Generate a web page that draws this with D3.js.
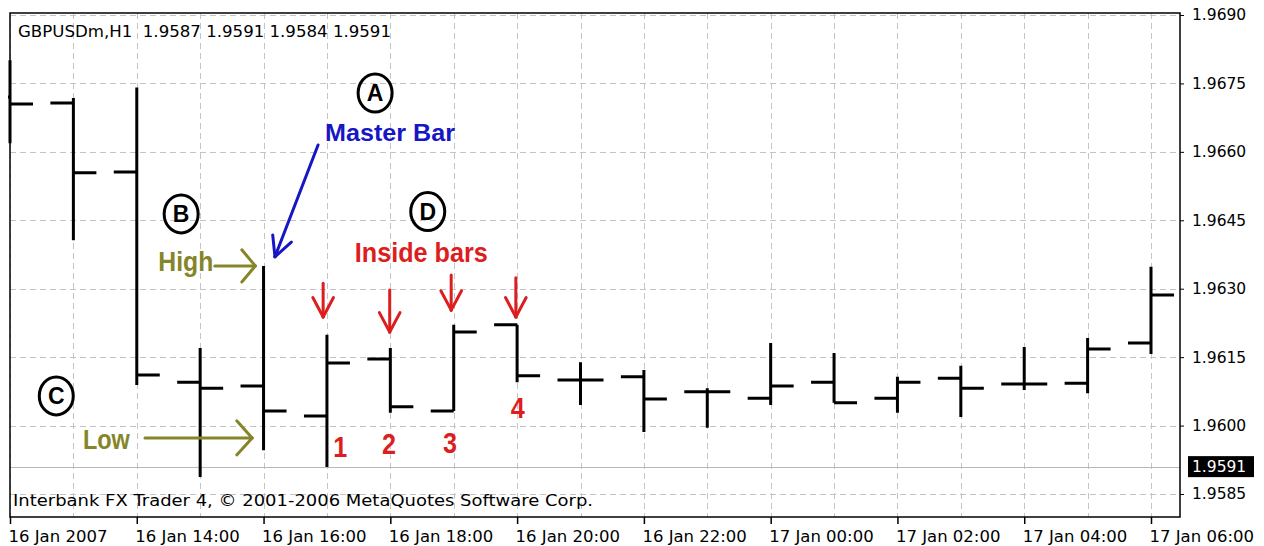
<!DOCTYPE html>
<html>
<head>
<meta charset="utf-8">
<script src="https://cdn.jsdelivr.net/npm/d3@7"></script>
<style>
  body { margin: 0; background: #fff; }
  svg { display: block; }
</style>
</head>
<body>
<script>
'use strict';

// hourly GBPUSD bars
const barTimes = [
  "2007-01-16 12:00", "2007-01-16 13:00", "2007-01-16 14:00", "2007-01-16 15:00",
  "2007-01-16 16:00", "2007-01-16 17:00", "2007-01-16 18:00", "2007-01-16 19:00",
  "2007-01-16 20:00", "2007-01-16 21:00", "2007-01-16 22:00", "2007-01-16 23:00",
  "2007-01-17 00:00", "2007-01-17 01:00", "2007-01-17 02:00", "2007-01-17 03:00",
  "2007-01-17 04:00", "2007-01-17 05:00", "2007-01-17 06:00"
]
const barOpen  = [1.96720, 1.96707, 1.96556, 1.96095, 1.96087, 1.96021, 1.96146, 1.96032, 1.96221, 1.96100,
                  1.96107, 1.96074, 1.96060, 1.96095, 1.96060, 1.96104, 1.96091, 1.96093, 1.96181]
const barHigh  = [1.96801, 1.96718, 1.96741, 1.96170, 1.96350, 1.96199, 1.96170, 1.96221, 1.96221, 1.96139,
                  1.96122, 1.96082, 1.96181, 1.96159, 1.96107, 1.96131, 1.96172, 1.96192, 1.96348]
const barLow   = [1.96619, 1.96406, 1.96089, 1.95887, 1.95946, 1.95909, 1.96028, 1.96032, 1.96095, 1.96045,
                  1.95986, 1.95995, 1.96045, 1.96050, 1.96028, 1.96019, 1.96078, 1.96071, 1.96157]
const barClose = [1.96705, 1.96554, 1.96111, 1.96082, 1.96032, 1.96137, 1.96041, 1.96205, 1.96109, 1.96100,
                  1.96058, 1.96074, 1.96087, 1.96050, 1.96095, 1.96082, 1.96091, 1.96168, 1.96286]

const priceTicks = [1.9585, 1.9600, 1.9615, 1.9630, 1.9645, 1.9660, 1.9675, 1.9690]
const timeTickLabels = ["16 Jan 2007", "16 Jan 14:00", "16 Jan 16:00", "16 Jan 18:00", "16 Jan 20:00",
                        "16 Jan 22:00", "17 Jan 00:00", "17 Jan 02:00", "17 Jan 04:00", "17 Jan 06:00"]
const lastPrice = 1.9591
const headerText = "GBPUSDm,H1  1.9587 1.9591 1.9584 1.9591"
const footerText = "Interbank FX Trader 4, \u00A9 2001-2006 MetaQuotes Software Corp."

// annotations, placed in (hours from first bar, price)
const circleNotes = [
  { label: "A", u: 5.76, p: 1.96729 },
  { label: "B", u: 2.70, p: 1.96464 },
  { label: "C", u: 0.73, p: 1.96065 },
  { label: "D", u: 6.59, p: 1.96469 }
]
const insideArrows = [
  { u: 4.94, top: 1.96312, tip: 1.96238 },
  { u: 5.99, top: 1.96297, tip: 1.96205 },
  { u: 6.96, top: 1.96330, tip: 1.96253 },
  { u: 7.98, top: 1.96324, tip: 1.96238 }
]
const insideNumbers = [
  { label: "1", u: 5.21, p: 1.95931 },
  { label: "2", u: 5.98, p: 1.95938 },
  { label: "3", u: 6.94, p: 1.95940 },
  { label: "4", u: 8.01, p: 1.96017 }
]

const m = { left: 10, top: 13, right: 1180, bottom: 517 }
const tick = 23

const parse = d3.timeParse("%Y-%m-%d %H:%M")
const times = barTimes.map(parse)
const bars = times.map((t, i) => ({ t: t, o: barOpen[i], h: barHigh[i], l: barLow[i], c: barClose[i] }))

const x = d3.scaleTime().domain([times[0], times[times.length - 1]]).range([10, 1151])
const y = d3.scaleLinear().domain([1.9585, 1.9690]).range([494, 15])
const ux = function(u) { return x(new Date(+times[0] + u * 3600e3)) }

const svg = d3.select('body').append('svg')
  .attr('width', 1264)
  .attr('height', 546)
  .style('font-family', '"DejaVu Sans", Verdana, sans-serif')

// grid
const grid = svg.append('g')
  .attr('stroke', '#c4c4c4')
  .attr('stroke-width', 1)
  .attr('stroke-dasharray', '6,4')
grid.selectAll('line.h')
  .data(priceTicks)
  .enter().append('line')
    .attr('x1', m.left).attr('x2', m.right)
    .attr('y1', d => Math.round(y(d)) + 0.5).attr('y2', d => Math.round(y(d)) + 0.5)
grid.selectAll('line.v')
  .data(d3.timeHour.range(times[0], d3.timeHour.offset(times[times.length - 1], 1)))
  .enter().append('line')
    .attr('x1', d => Math.round(x(d)) + 0.5).attr('x2', d => Math.round(x(d)) + 0.5)
    .attr('y1', m.top).attr('y2', m.bottom)

// last price line
svg.append('line')
  .attr('x1', m.left).attr('x2', m.right)
  .attr('y1', Math.round(y(lastPrice)) + 0.5).attr('y2', Math.round(y(lastPrice)) + 0.5)
  .attr('stroke', '#b8b8b8')
  .attr('stroke-width', 1)

// bars
svg.append('clipPath').attr('id', 'plot')
  .append('rect')
    .attr('x', m.left - 2).attr('y', m.top)
    .attr('width', m.right - m.left + 2).attr('height', m.bottom - m.top)

svg.append('g')
  .attr('clip-path', 'url(#plot)')
  .selectAll('path')
  .data(bars)
  .enter().append('path')
    .attr('d', d => {
      const cx = x(d.t)
      return 'M' + cx + ',' + y(d.h) + 'V' + y(d.l) +
        'M' + (cx - tick) + ',' + y(d.o) + 'H' + cx +
        'M' + cx + ',' + y(d.c) + 'H' + (cx + tick)
    })
    .attr('fill', 'none')
    .attr('stroke', '#000')
    .attr('stroke-width', 3)

// frame
svg.append('rect')
  .attr('x', m.left).attr('y', m.top)
  .attr('width', m.right - m.left).attr('height', m.bottom - m.top)
  .attr('fill', 'none')
  .attr('stroke', '#000')
  .attr('stroke-width', 1.5)

// price axis
const yAxis = d3.axisRight(y)
  .tickValues(priceTicks)
  .tickSize(4)
  .tickPadding(8)
  .tickFormat(d3.format('.4f'))
const gy = svg.append('g')
  .attr('transform', 'translate(' + m.right + ',0)')
  .call(yAxis)
gy.select('.domain').remove()
gy.selectAll('text').style('font-size', '15.5px').style('font-family', '"DejaVu Sans", sans-serif').attr('fill', '#000')
gy.selectAll('line').attr('stroke', '#000')

// last price box
const lp = svg.append('g')
lp.append('rect')
  .attr('x', 1188).attr('y', y(lastPrice) - 10.5)
  .attr('width', 66).attr('height', 21)
  .attr('fill', '#000')
lp.append('text')
  .attr('x', 1192).attr('y', y(lastPrice))
  .attr('dy', '0.36em')
  .attr('fill', '#fff')
  .style('font-size', '15.5px')
  .text(d3.format('.4f')(lastPrice))

// time axis
const timeTicks = d3.timeHour.every(2).range(times[0], d3.timeHour.offset(times[times.length - 1], 1))
const xAxis = d3.axisBottom(x)
  .tickValues(timeTicks)
  .tickSize(7)
  .tickPadding(6)
  .tickFormat((d, i) => timeTickLabels[i])
const gx = svg.append('g')
  .attr('transform', 'translate(0,' + m.bottom + ')')
  .call(xAxis)
gx.select('.domain').remove()
gx.selectAll('line').attr('stroke', '#000').attr('stroke-width', 1.5)
gx.selectAll('text')
  .attr('text-anchor', 'start')
  .attr('x', -2)
  .attr('fill', '#000')
  .style('font-size', '16.5px')
  .style('font-family', '"DejaVu Sans", sans-serif')

// header and footer
svg.append('text')
  .attr('x', 18).attr('y', 37)
  .style('font-size', '16.5px')
  .style('white-space', 'pre')
  .attr('textLength', 373)
  .attr('lengthAdjust', 'spacingAndGlyphs')
  .text(headerText)

svg.append('text')
  .attr('x', 13).attr('y', 506)
  .style('font-size', '16.5px')
  .attr('textLength', 580)
  .attr('lengthAdjust', 'spacingAndGlyphs')
  .text(footerText)

// annotation helpers
function arrow(g, x1, y1, x2, y2, color, len, ang) {
  g.append('line')
    .attr('x1', x1).attr('y1', y1).attr('x2', x2).attr('y2', y2)
    .attr('stroke', color).attr('stroke-width', 3).attr('stroke-linecap', 'round')
  const a = Math.atan2(y1 - y2, x1 - x2)
  ;[-1, 1].forEach(s => {
    const b = a + s * ang * Math.PI / 180
    g.append('line')
      .attr('x1', x2).attr('y1', y2)
      .attr('x2', x2 + len * Math.cos(b)).attr('y2', y2 + len * Math.sin(b))
      .attr('stroke', color).attr('stroke-width', 3).attr('stroke-linecap', 'round')
  })
}

function label(g, txt, xx, yy, color, size, width, anchor) {
  g.append('text')
    .attr('x', xx).attr('y', yy)
    .attr('fill', color)
    .attr('text-anchor', anchor || 'start')
    .style('font-family', '"Liberation Sans", Arial, sans-serif')
    .style('font-weight', 'bold')
    .style('font-size', size + 'px')
    .attr('textLength', width)
    .attr('lengthAdjust', 'spacingAndGlyphs')
    .text(txt)
}

const notes = svg.append('g')
const blue = '#1616c4'
const olive = '#85852a'
const red = '#dc1e1e'

// circled letters
circleNotes.forEach(d => {
  notes.append('ellipse')
    .attr('cx', ux(d.u)).attr('cy', y(d.p))
    .attr('rx', 17).attr('ry', 19)
    .attr('fill', 'none').attr('stroke', '#000').attr('stroke-width', 3)
  notes.append('text')
    .attr('x', ux(d.u)).attr('y', y(d.p))
    .attr('dy', '0.36em')
    .attr('text-anchor', 'middle')
    .style('font-family', '"Liberation Sans", Arial, sans-serif')
    .style('font-weight', 'bold')
    .style('font-size', '23px')
    .text(d.label)
})

// master bar
label(notes, 'Master Bar', ux(4.97), y(1.96624), blue, 24, 130)
arrow(notes, ux(4.86), y(1.96615), ux(4.18), y(1.96370), blue, 22, 27)

// high / low of the master bar
label(notes, 'High', ux(2.34), y(1.96339), olive, 28, 55)
arrow(notes, ux(3.23), y(1.96350), ux(3.87), y(1.96350), olive, 21, 50)
label(notes, 'Low', ux(1.15), y(1.95949), olive, 28, 47)
arrow(notes, ux(2.13), y(1.95973), ux(3.82), y(1.95973), olive, 23, 48)

// inside bars
label(notes, 'Inside bars', ux(5.44), y(1.96359), red, 27, 133)
insideArrows.forEach(d => {
  arrow(notes, ux(d.u), y(d.top), ux(d.u), y(d.tip), red, 22, 28)
})
insideNumbers.forEach(d => {
  label(notes, d.label, ux(d.u), y(d.p), red, 30, 14, 'middle')
})
</script>
</body>
</html>
